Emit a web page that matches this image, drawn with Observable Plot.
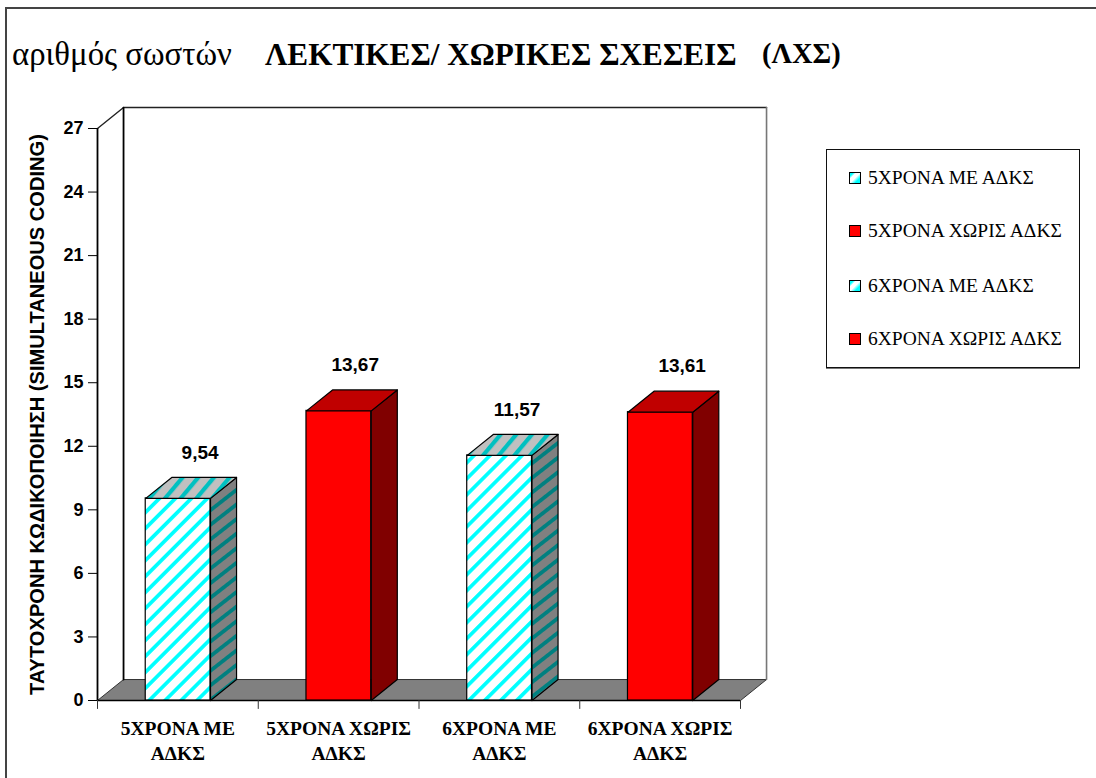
<!DOCTYPE html>
<html lang="el">
<head>
<meta charset="utf-8">
<title>Λεκτικές / χωρικές σχέσεις</title>
<script src="https://cdn.jsdelivr.net/npm/d3@7"></script>
<script src="https://cdn.jsdelivr.net/npm/@observablehq/plot@0.6"></script>
<style>
  html, body { margin: 0; padding: 0; background: #fff; overflow: hidden; }
  #figure { position: relative; width: 1096px; height: 778px; overflow: hidden; }
  #frame { position: absolute; left: 5px; top: 7px; right: -4px; bottom: -4px; border: 2px solid #444; }
  #figure svg { position: absolute; left: 0; top: 0; background: transparent; }
  .head { position: absolute; white-space: nowrap; font-family: "Liberation Serif", serif; color: #000; }
  #unit { left: 12px; top: 36px; font-size: 32.8px; }
  #title { left: 265px; top: 37px; font-size: 31.2px; font-weight: bold; }
  #code { left: 762px; top: 38px; font-size: 28.5px; font-weight: bold; }
  #legend { position: absolute; left: 826px; top: 149px; width: 252px; height: 217px; border: 1px solid #111;
            box-shadow: 0 1px 0 #777; background: #fff; font-family: "Liberation Serif", serif; font-size: 19.5px; }
  .entry { position: absolute; left: 22px; display: flex; align-items: center; white-space: nowrap; }
  .swatch { width: 10px; height: 10px; border: 1px solid #000; margin-right: 7px; }
</style>
</head>
<body>
<div id="figure">
  <div id="frame"></div>
  <div id="unit" class="head">αριθμός σωστών</div>
  <div id="title" class="head">ΛΕΚΤΙΚΕΣ/ ΧΩΡΙΚΕΣ ΣΧΕΣΕΙΣ</div>
  <div id="code" class="head">(ΛΧΣ)</div>
  <div id="legend"></div>
</div>
<script>
// Mean correct answers per group
const groups = ["5ΧΡΟΝΑ ΜΕ ΑΔΚΣ", "5ΧΡΟΝΑ ΧΩΡΙΣ ΑΔΚΣ", "6ΧΡΟΝΑ ΜΕ ΑΔΚΣ", "6ΧΡΟΝΑ ΧΩΡΙΣ ΑΔΚΣ"];
const axisLabels = ["5ΧΡΟΝΑ ΜΕ\nΑΔΚΣ", "5ΧΡΟΝΑ ΧΩΡΙΣ\nΑΔΚΣ", "6ΧΡΟΝΑ ΜΕ\nΑΔΚΣ", "6ΧΡΟΝΑ ΧΩΡΙΣ\nΑΔΚΣ"];
const values = [9.54, 13.67, 11.57, 13.61];
const valueLabels = ["9,54", "13,67", "11,57", "13,61"];
const kinds = ["striped", "solid", "striped", "solid"];
const yTicks = [0, 3, 6, 9, 12, 15, 18, 21, 24, 27];
const yTitle = "ΤΑΥΤΟΧΡΟΝΗ ΚΩΔΙΚΟΠΟΙΗΣΗ (SIMULTANEOUS CODING)";

// Extrusion of the pseudo-3D box, in data units of each axis
const depthX = 0.162;
const depthY = 0.99;
const barLeft = 0.3, barRight = 0.703;
const yMax = 27;
const slots = groups.length;
// Horizontal centre of each value label within its slot
const labelCentre = [0.638, 0.603, 0.610, 0.637];

const faces = {
  striped: {front: "url(#stripeFront)", side: "url(#stripeSide)", top: "url(#stripeTop)"},
  solid: {front: "#ff0000", side: "#800000", top: "#c00000"}
};

// Closed polygon drawn as a filled line through the plot's scales
const poly = (pts, options) => Plot.line([...pts, pts[0]], {x: "0", y: "1", curve: "linear", ...options});

// Hatch patterns shared by the striped bars
function patterns() {
  const defs = d3.create("svg:defs");
  const add = (id, angle, period, band, bg, fg) => {
    const p = defs.append("pattern").attr("id", id).attr("patternUnits", "userSpaceOnUse")
      .attr("width", period).attr("height", period).attr("patternTransform", `rotate(${angle})`);
    p.append("rect").attr("width", period).attr("height", period).attr("fill", bg);
    p.append("rect").attr("width", band).attr("height", period).attr("fill", fg);
  };
  add("stripeFront", 45, 11.3, 3.7, "#ffffff", "#00ffff");
  add("stripeSide", 52, 11.5, 3.8, "#808080", "#008080");
  add("stripeTop", 40, 12, 4.2, "#c0c0c0", "#00c0c0");
  return defs.node();
}

const bars = values.flatMap((v, i) => {
  const f = faces[kinds[i]], a = i + barLeft, b = i + barRight;
  const line = {stroke: "#000", strokeWidth: 1.2};
  return [
    Plot.rect([v], {x1: a, x2: b, y1: 0, y2: d => d, fill: f.front, ...line}),
    poly([[b, 0], [b + depthX, depthY], [b + depthX, v + depthY], [b, v]], {fill: f.side, ...line}),
    poly([[a, v], [b, v], [b + depthX, v + depthY], [a + depthX, v + depthY]], {fill: f.top, ...line})
  ];
});

const chart = Plot.plot({
  width: 1096,
  height: 778,
  marginLeft: 97,
  marginRight: 356,
  marginTop: 128,
  marginBottom: 78,
  style: {background: "transparent", overflow: "visible"},
  x: {type: "linear", domain: [0, slots], axis: null},
  y: {type: "linear", domain: [0, yMax], axis: null},
  marks: [
    patterns,
    // Floor
    poly([[0, 0], [depthX, depthY], [slots + depthX, depthY], [slots, 0]], {fill: "#808080", stroke: "#333", strokeWidth: 1}),
    // Back wall and its outline
    Plot.line([[0, yMax], [depthX, yMax + depthY], [slots + depthX, yMax + depthY]], {x: "0", y: "1", stroke: "#222", strokeWidth: 1.4}),
    Plot.line([[depthX, depthY], [depthX, yMax + depthY]], {x: "0", y: "1", stroke: "#000", strokeWidth: 1.8}),
    Plot.line([[slots + depthX, depthY], [slots + depthX, yMax + depthY]], {x: "0", y: "1", stroke: "#777", strokeWidth: 1.6}),
    // Front axis lines
    Plot.ruleX([0], {y1: 0, y2: yMax, stroke: "#000", strokeWidth: 1.8}),
    Plot.ruleY([0], {x1: 0, x2: slots, stroke: "#000", strokeWidth: 1.6}),
    Plot.ruleX(d3.range(slots + 1), {y1: 0, y2: -0.42, stroke: "#333", strokeWidth: 1}),
    ...bars,
    Plot.axisY({
      ticks: yTicks,
      tickSize: 9,
      tickPadding: 5,
      stroke: "#000",
      fontSize: 18,
      fontWeight: "bold",
      fontFamily: "Liberation Sans",
      fill: "#000",
      label: null
    }),
    Plot.text([yTitle], {
      text: d => d,
      frameAnchor: "left",
      textAnchor: "middle",
      dx: -60,
      rotate: -90,
      fontFamily: "Liberation Sans",
      fontWeight: "bold",
      fontSize: 20.1,
      fill: "#000"
    }),
    Plot.text(axisLabels, {
      x: (d, i) => i + 0.5,
      y: 0,
      dy: 39,
      text: d => d,
      lineHeight: 1.28,
      fontFamily: "Liberation Serif",
      fontWeight: "bold",
      fontSize: 19.5,
      fill: "#000"
    }),
    Plot.text(values, {
      x: (d, i) => i + labelCentre[i],
      y: d => d + depthY,
      dy: -25,
      text: (d, i) => valueLabels[i],
      fontFamily: "Liberation Sans",
      fontWeight: "bold",
      fontSize: 19,
      fill: "#000"
    })
  ]
});
document.getElementById("figure").insertBefore(chart, document.getElementById("unit"));

// Legend box beside the chart
const entryTops = [17, 70, 125, 178];
const swatchFill = {
  striped: "linear-gradient(135deg,#00ffff 0 15%,#ffffff 30% 50%,#00ffff 75%)",
  solid: "#ff0000"
};
const legend = d3.select("#legend");
groups.forEach((g, i) => {
  const row = legend.append("div").attr("class", "entry").style("top", entryTops[i] + "px");
  row.append("span").attr("class", "swatch").style("background", swatchFill[kinds[i]]);
  row.append("span").text(g);
});
</script>
</body>
</html>
